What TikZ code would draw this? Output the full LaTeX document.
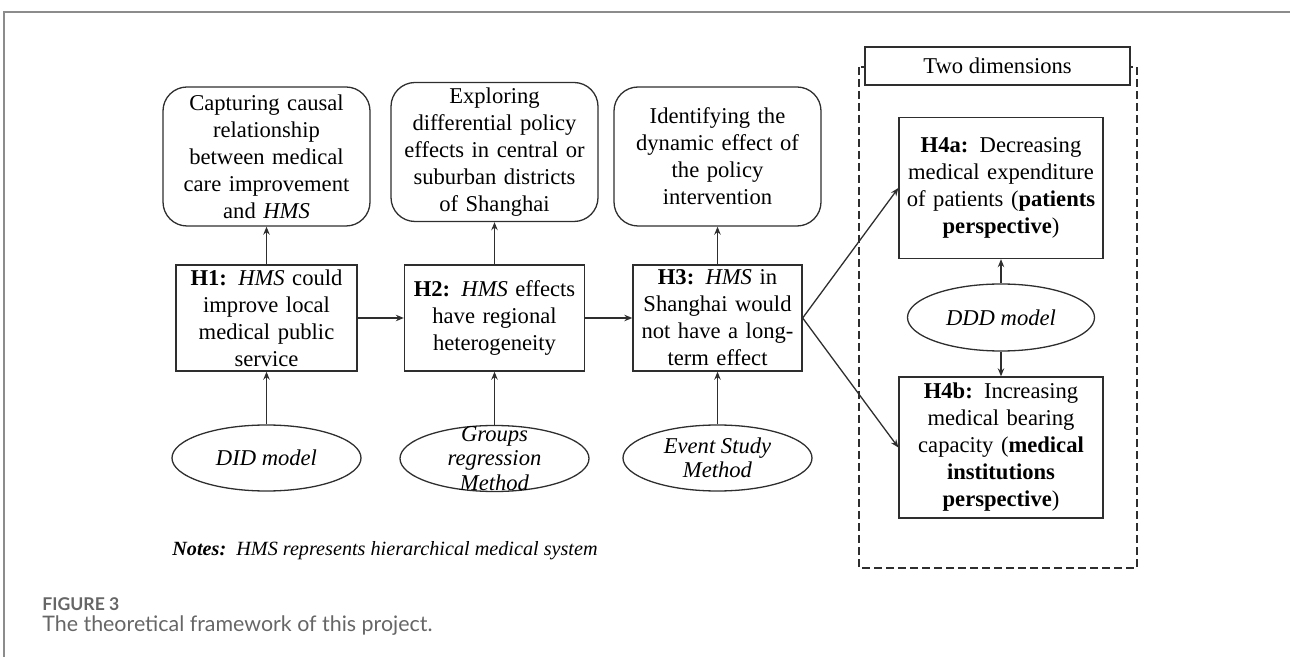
\documentclass[tikz,border=0pt]{standalone}
\usepackage{fontspec}
\setmainfont{Liberation Serif}
\newfontfamily\capfont{Lato}
\usetikzlibrary{shapes.geometric,arrows.meta}
\definecolor{framegray}{HTML}{8C8C8C}
\definecolor{linegray}{HTML}{2E2E2E}
\definecolor{capgray}{HTML}{666666}
\begin{document}
\begin{tikzpicture}[x=0.5pt,y=-0.5pt,
  every node/.style={inner sep=0pt, align=center, font=\fontsize{11.3}{13.5}\selectfont},
  rbox/.style={draw=linegray, line width=0.65pt, rounded corners=12pt, minimum width=103.5pt, minimum height=69.5pt, text width=100pt},
  hbox/.style={draw=linegray, line width=0.65pt, minimum height=53pt},
  sbox/.style={draw=linegray, line width=0.65pt, minimum width=102pt, minimum height=70.5pt, text width=100pt},
  oval/.style={draw=linegray, line width=0.65pt, ellipse, minimum width=94.5pt, minimum height=33pt},
  ovaltext/.style={font=\fontsize{11.3}{12.2}\selectfont\itshape},
  arr/.style={draw=linegray, line width=0.65pt, -{Stealth[length=4pt,width=3.2pt]}}
]
\useasboundingbox (0,0) rectangle (1290,657);
% outer frame
\draw[framegray, line width=1pt] (4,657) coordinate (fbl) -- (4,12) coordinate (ftl) -- (1290,12) coordinate (ftr);

% dashed group
\draw[linegray, line width=0.65pt, dashed, dash pattern=on 4pt off 2pt] (859,67) rectangle (1137,568);
\node[draw=linegray, line width=0.65pt, fill=white, minimum width=132.5pt, minimum height=19pt] (two) at (997.5,66) {Two dimensions};

% top rounded boxes
\node[rbox] (b1) at (266.5,156.5) {Capturing causal\\relationship\\between medical\\care improvement\\and \textit{HMS}};
\node[rbox] (b2) at (494.5,152) {Exploring\\differential policy\\effects in central or\\suburban districts\\of Shanghai};
\node[rbox] (b3) at (717.5,156.5) {Identifying the\\dynamic effect of\\the policy\\intervention};

% hypothesis boxes
\node[hbox, minimum width=90.5pt, text width=88pt] (h1) at (266.5,318) {\textbf{H1:} \textit{HMS} could\\improve local\\medical public\\service};
\node[hbox, minimum width=90pt, text width=88pt] (h2) at (494.5,318) {\textbf{H2:} \textit{HMS} effects\\have regional\\heterogeneity};
\node[hbox, minimum width=84.5pt, text width=83pt] (h3) at (717.5,318) {\textbf{H3:} \textit{HMS} in\\Shanghai would\\not have a long-\\term effect};

% H4 boxes
\node[sbox] (h4a) at (1001,188) {\textbf{H4a:} Decreasing\\medical expenditure\\of patients (\textbf{patients}\\\textbf{perspective})};
\node[sbox] (h4b) at (1001,447.5) {\textbf{H4b:} Increasing\\medical bearing\\capacity (\textbf{medical}\\\textbf{institutions}\\\textbf{perspective})};

% ellipses
\node[oval] (did) at (266.5,458) {};
\node[ovaltext] (didt) at (did.center) {DID model};
\node[oval] (grp) at (494.5,458.5) {};
\node[ovaltext] (grpt) at (grp.center) {Groups\\regression\\Method};
\node[oval] (evt) at (717.5,458) {};
\node[ovaltext] (evtt) at (evt.center) {Event Study\\Method};
\node[oval, minimum width=93.5pt, minimum height=33.5pt] (ddd) at (1001,317.5) {};
\node[ovaltext] (dddt) at (ddd.center) {DDD model};

% connectors
\draw[arr] (h1.north) -- (b1.south);
\draw[arr] (h2.north) -- (b2.south);
\draw[arr] (h3.north) -- (b3.south);
\draw[arr] (did.north) -- (h1.south);
\draw[arr] (grp.north) -- (h2.south);
\draw[arr] (evt.north) -- (h3.south);
\draw[arr] (h1.east) -- (h2.west);
\draw[arr] (h2.east) -- (h3.west);
\draw[arr] (h3.east) -- (h4a.west);
\draw[arr] (h3.east) -- (h4b.west);
\draw[arr] (ddd.north) -- (h4a.south);
\draw[arr] (ddd.south) -- (h4b.north);

% notes
\node[anchor=west, font=\fontsize{10.1}{12}\selectfont\itshape] (notes) at (172,551) {\textbf{Notes:}\ \ HMS represents hierarchical medical system};

% caption
\node[anchor=west, text=capgray, font=\capfont\fontsize{8.8}{10}\selectfont\bfseries] (fig) at (42,604) {FIGURE 3};
\node[anchor=west, text=capgray, font=\capfont\fontsize{10.7}{12}\selectfont] (cap) at (42,626) {The theoretical framework of this project.};
\end{tikzpicture}
\end{document}
